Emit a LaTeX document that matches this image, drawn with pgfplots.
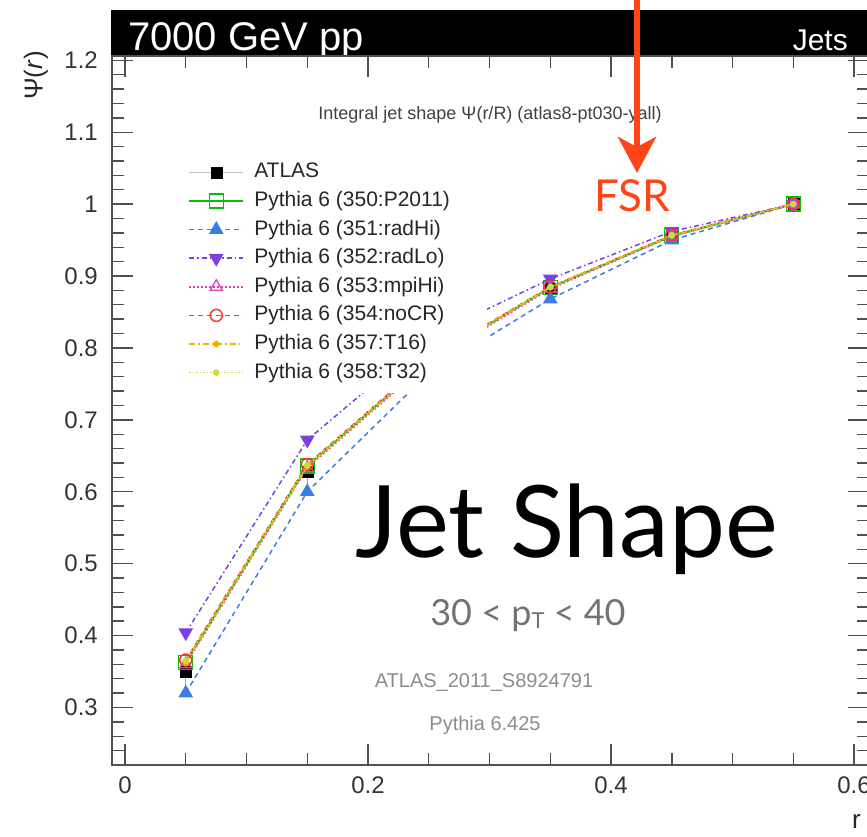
\documentclass[border=0pt]{standalone}
\usepackage{fontspec}
\setmainfont{Liberation Sans}
\newfontfamily\gill{Lato}
\usepackage{pgfplots}
\pgfplotsset{compat=1.18}
\usetikzlibrary{arrows.meta}
\definecolor{fsr}{HTML}{FF4418}
\definecolor{cP}{HTML}{00C000}
\definecolor{cHi}{HTML}{3A7FE0}
\definecolor{cLo}{HTML}{7A40E0}
\definecolor{cMpi}{HTML}{E040C0}
\definecolor{cCR}{HTML}{FF3535}
\definecolor{cT16}{HTML}{F0B000}
\definecolor{cT32}{HTML}{C0E040}
\definecolor{axgray}{HTML}{505050}
\begin{document}
\begin{tikzpicture}
% header bar
\fill[black] (111pt,782pt) rectangle (869pt,827pt);
\node[anchor=base west, text=white, inner sep=0pt, font=\fontsize{40}{40}\selectfont] at (128pt,786pt) {7000 GeV pp};
\node[anchor=base east, text=white, inner sep=0pt, font=\fontsize{30}{30}\selectfont] at (848pt,786pt) {Jets};
\begin{axis}[
  at={(112pt,72pt)}, anchor=south west,
  width=757pt, height=709pt, scale only axis,
  xmin=-0.0107, xmax=0.6123, ymin=0.22, ymax=1.206,
  xtick={0,0.2,0.4,0.6}, ytick={0.3,0.4,0.5,0.6,0.7,0.8,0.9,1,1.1,1.2},
  minor xtick={0,0.05,...,0.6}, minor ytick={0.22,0.24,...,1.2},
  tick align=inside, tick pos=both,
  major tick length=21pt, minor tick length=12pt,
  axis line style={axgray, line width=1.6pt},
  every tick/.style={axgray, line width=1.4pt},
  /pgf/number format/assume math mode=true,
  tick label style={font=\fontsize{24}{24}\selectfont, text=black!80},
  yticklabel style={anchor=east, inner sep=0pt, xshift=-14pt},
  xticklabel style={anchor=north, inner sep=0pt, yshift=-12pt},
  clip marker paths=true,
  legend cell align=left,
  legend style={at={(axis cs:0.0519,1.0576)}, anchor=north west, draw=none, fill=none,
    inner sep=0pt, row sep=9.6pt, column sep=10pt,
    font=\fontsize{21}{21}\selectfont, text=black!85,
    nodes={inner sep=0pt, text height=15pt, text depth=4pt}},
  legend image code/.code={\draw[mark repeat=2,mark phase=2] plot coordinates {(0pt,0pt) (27pt,0pt) (54pt,0pt)};},
  mark options={solid},
]
% ATLAS data
\addplot[only marks, mark=square*, mark size=5.5pt, black,
  legend image code/.code={\draw[black!25, line width=1.2pt] (0pt,0pt) -- (54pt,0pt);
     \fill[black] (21.5pt,-5.5pt) rectangle (32.5pt,5.5pt);},
  error bars/.cd, y dir=both, y explicit, error mark=-,
  error bar style={black!35, line width=1.2pt}, error mark options={mark size=5pt, black!35, line width=1.2pt}]
  coordinates {(0.05,0.350) +- (0,0.014) (0.15,0.628) +- (0,0.010) (0.25,0.778) +- (0,0.008) (0.35,0.882) +- (0,0.006) (0.45,0.955) +- (0,0.004) (0.55,1.0) +- (0,0.002)};
\addlegendentry{ATLAS}
% P2011
\addplot[cP, line width=2pt, mark=square, mark size=7pt, mark options={solid, line width=1.3pt}]
  coordinates {(0.05,0.363) (0.15,0.636) (0.25,0.783) (0.35,0.884) (0.45,0.956) (0.55,1.0)};
\addlegendentry{Pythia 6 (350:P2011)}
% radHi
\addplot[cHi, line width=1.5pt, dash pattern=on 5pt off 4pt, mark=triangle*, mark size=7pt, mark options={solid}]
  coordinates {(0.05,0.320) (0.15,0.600) (0.25,0.765) (0.35,0.868) (0.45,0.950) (0.55,1.0)};
\addlegendentry{Pythia 6 (351:radHi)}
% radLo
\addplot[cLo, line width=1.5pt, dash pattern=on 5pt off 3pt on 1.5pt off 3pt, mark=triangle*, mark size=7pt, mark options={solid, rotate=180}]
  coordinates {(0.05,0.404) (0.15,0.672) (0.25,0.815) (0.35,0.896) (0.45,0.962) (0.55,1.0)};
\addlegendentry{Pythia 6 (352:radLo)}
% mpiHi
\addplot[cMpi, line width=1.5pt, dash pattern=on 1.5pt off 2.5pt, mark=triangle, mark size=7pt, mark options={solid, line width=1.3pt}]
  coordinates {(0.05,0.360) (0.15,0.633) (0.25,0.780) (0.35,0.882) (0.45,0.955) (0.55,1.0)};
\addlegendentry{Pythia 6 (353:mpiHi)}
% noCR
\addplot[cCR, line width=1.5pt, dash pattern=on 5pt off 4pt, mark=o, mark size=6pt, mark options={solid, line width=1.5pt}]
  coordinates {(0.05,0.366) (0.15,0.638) (0.25,0.785) (0.35,0.885) (0.45,0.957) (0.55,1.0)};
\addlegendentry{Pythia 6 (354:noCR)}
% T16
\addplot[cT16, line width=1.5pt, dash pattern=on 6pt off 3pt on 1.5pt off 3pt, mark=*, mark size=2.5pt, mark options={solid}]
  coordinates {(0.05,0.362) (0.15,0.635) (0.25,0.782) (0.35,0.884) (0.45,0.956) (0.55,1.0)};
\addlegendentry{Pythia 6 (357:T16)}
% T32
\addplot[cT32, line width=1.5pt, dash pattern=on 1.5pt off 2pt, mark=*, mark size=2.5pt, mark options={solid}]
  coordinates {(0.05,0.365) (0.15,0.637) (0.25,0.784) (0.35,0.885) (0.45,0.957) (0.55,1.0)};
\addlegendentry{Pythia 6 (358:T32)}
% legend background
\fill[white] (axis cs:0.0436,0.738) rectangle (axis cs:0.298,1.069);
\end{axis}
% axis labels
\node[rotate=90, anchor=east, inner sep=0pt, font=\fontsize{26}{26}\selectfont, text=black!85] at (36pt,786pt) {Ψ(\textit{r})};
\node[anchor=base east, inner sep=0pt, font=\fontsize{26}{26}\selectfont, text=black!85] at (861pt,8pt) {r};
% texts inside
\node[inner sep=0pt, font=\fontsize{18}{18}\selectfont, text=black!75] at (490pt,722pt) {Integral jet shape Ψ(r/R) (atlas8-pt030-yall)};
\node[inner sep=0pt, font=\fontsize{20}{20}\selectfont, text=black!45] at (484pt,154pt) {ATLAS\_2011\_S8924791};
\node[inner sep=0pt, font=\fontsize{20}{20}\selectfont, text=black!45] at (485pt,112pt) {Pythia 6.425};
% big annotations
\node[anchor=base, inner sep=0pt, font=\gill\fontsize{100}{100}\selectfont] at (567pt,279pt) {Jet Shape};
\node[anchor=base, inner sep=0pt, font=\gill\fontsize{36}{36}\selectfont, text=black!55] at (528pt,211pt) {30 < p\raisebox{-3pt}{\fontsize{22}{22}\selectfont T} < 40};
\node[anchor=base, inner sep=0pt, font=\gill\fontsize{44}{44}\selectfont, text=fsr] at (632pt,625pt) {FSR};
\draw[fsr, line width=6pt, -{Stealth[length=36pt, width=38pt, inset=10pt]}] (637pt,845pt) -- (637pt,664pt);
\pgfresetboundingbox
\useasboundingbox (0pt,0pt) rectangle (867pt,837pt);
\end{tikzpicture}
\end{document}
